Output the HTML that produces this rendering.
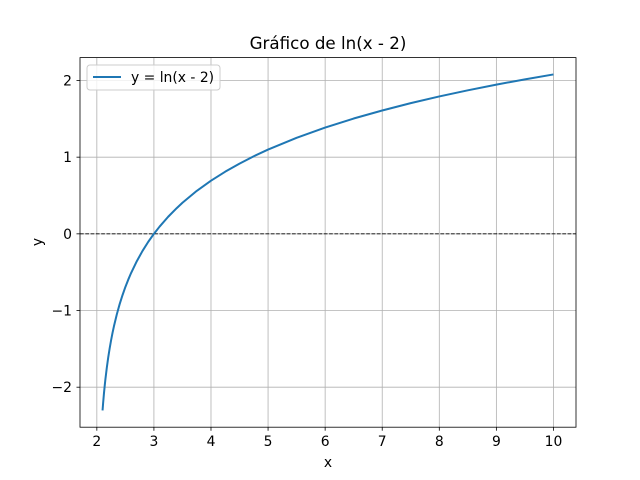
<!DOCTYPE html>
<html><head><meta charset="utf-8"><style>
body{margin:0;background:#fff}
svg{display:block;font-family:"DejaVu Sans","Liberation Sans",sans-serif}
</style></head><body>
<svg id="chart" width="640" height="480">
<rect width="640" height="480" fill="#fff"/>
<text x="328" y="49" text-anchor="middle" font-size="16.7">Gráfico de ln(x - 2)</text>
<g id="grid"></g>
<g id="ticks"></g>
<line id="zero" stroke="#000" stroke-width="0.9" stroke-dasharray="3.7,1.6"/>
<path id="curve" fill="none" stroke="#1f77b4" stroke-width="2" stroke-linejoin="round"/>
<rect x="80" y="57.6" width="496" height="369.6" fill="none" stroke="#000" stroke-width="0.8"/>
<text x="328" y="467" text-anchor="middle" font-size="13.9">x</text>
<text x="42" y="242" text-anchor="middle" font-size="13.9" transform="rotate(-90 42 242)">y</text>
<g>
<rect x="87" y="65" width="133" height="25" rx="3" fill="#fff" fill-opacity="0.8" stroke="#ccc"/>
<line x1="93" y1="77" x2="121" y2="77" stroke="#1f77b4" stroke-width="2"/>
<text x="131" y="82" font-size="13.9">y = ln(x - 2)</text>
</g>
</svg>
<script>
const xs=[2.1,2.11,2.125,2.14,2.15,2.175,2.2,2.225,2.25,2.275,2.3,2.35,2.4,2.45,2.5,2.55,2.6,2.7,2.8,2.9,3.0,3.1,3.25,3.4,3.5,3.75,4,4.25,4.5,4.75,5,5.5,6,6.5,7,7.5,8,8.5,9,9.5,10];
const ys=[-2.303,-2.207,-2.079,-1.966,-1.897,-1.743,-1.609,-1.492,-1.386,-1.291,-1.204,-1.050,-0.916,-0.799,-0.693,-0.598,-0.511,-0.357,-0.223,-0.105,0,0.095,0.223,0.336,0.405,0.560,0.693,0.811,0.916,1.012,1.099,1.253,1.386,1.504,1.609,1.705,1.792,1.872,1.946,2.015,2.079];
const xTicks=[2,3,4,5,6,7,8,9,10];
const yTicks=[-2,-1,0,1,2];
const xMin=1.705,xMax=10.395,yMin=-2.5217,yMax=2.2985;
const X=v=>80+(v-xMin)/(xMax-xMin)*496;
const Y=v=>427.2-(v-yMin)/(yMax-yMin)*369.6;
const NS="http://www.w3.org/2000/svg";
const grid=document.getElementById('grid'),ticks=document.getElementById('ticks');
function mk(tag,attrs,parent,txt){const e=document.createElementNS(NS,tag);for(const k in attrs)e.setAttribute(k,attrs[k]);if(txt!==undefined)e.textContent=txt;parent.appendChild(e);return e;}
xTicks.forEach(t=>{const x=X(t);
let g=mk('line',{x1:x,x2:x,y1:57.6,y2:427.2,stroke:'#b0b0b0','stroke-width':0.8},grid);


let tk=mk('line',{x1:x,x2:x,y1:427.2,y2:430.7,stroke:'#000','stroke-width':0.8},ticks);


let l=mk('text',{x:x,y:446,'text-anchor':'middle','font-size':13.9},ticks,String(t));

});
yTicks.forEach(t=>{const y=Y(t);
let g=mk('line',{x1:80,x2:576,y1:y,y2:y,stroke:'#b0b0b0','stroke-width':0.8},grid);


let tk=mk('line',{x1:76.5,x2:80,y1:y,y2:y,stroke:'#000','stroke-width':0.8},ticks);


let l=mk('text',{x:72,y:y+5,'text-anchor':'end','font-size':13.9},ticks,t<0?'\u2212'+(-t):String(t));

});
const z=document.getElementById('zero');
z.setAttribute('x1',80);z.setAttribute('x2',576);z.setAttribute('y1',Y(0));z.setAttribute('y2',Y(0));
document.getElementById('curve').setAttribute('d',xs.map((v,i)=>(i?'L':'M')+X(v).toFixed(2)+','+Y(ys[i]).toFixed(2)).join(''));
</script>
</body></html>
